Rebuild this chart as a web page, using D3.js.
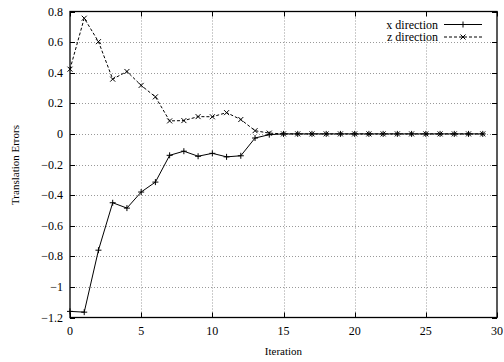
<!DOCTYPE html>
<html><head><meta charset="utf-8">
<script src="https://cdn.jsdelivr.net/npm/d3@7"></script>
<style>body{margin:0;background:#fff}svg{display:block}</style>
</head><body><svg id="c" width="504" height="362" font-family="'Liberation Serif', 'Times New Roman', 'DejaVu Serif', serif"></svg>
<script>
const iterations = d3.range(0, 30);
const xDirection = [-1.16,-1.165,-0.76,-0.45,-0.485,-0.38,-0.315,-0.14,-0.113,-0.146,-0.127,-0.15,-0.143,-0.027,-0.005,0,0,0,0,0,0,0,0,0,0,0,0,0,0,0];
const zDirection = [0.423,0.756,0.603,0.358,0.408,0.317,0.242,0.085,0.087,0.113,0.112,0.139,0.094,0.021,0.005,0,0,0,0,0,0,0,0,0,0,0,0,0,0,0];
const xTicks = [0,5,10,15,20,25,30];
const yTicks = [-1.2,-1,-0.8,-0.6,-0.4,-0.2,0,0.2,0.4,0.6,0.8];
const seriesNames = ["x direction","z direction"];

const L=70,R=497,T=11.5,B=317.5;
const svg=d3.select("#c");
const x=d3.scaleLinear().domain([0,30]).range([L,R]);
const y=d3.scaleLinear().domain([-1.2,0.8]).range([B,T]);

// grid
const g=svg.append("g");
g.selectAll(".gx").data(xTicks.filter(d=>d>0&&d<30)).enter().append("line")
 .attr("x1",d=>Math.round(x(d))+0.5).attr("x2",d=>Math.round(x(d))+0.5).attr("y1",T).attr("y2",B)
 .attr("stroke","#999").attr("stroke-dasharray","1,2");
g.selectAll(".gy").data(yTicks.filter(d=>d>-1.2&&d<0.8)).enter().append("line")
 .attr("y1",d=>Math.round(y(d))+0.5).attr("y2",d=>Math.round(y(d))+0.5).attr("x1",L).attr("x2",R)
 .attr("stroke","#999").attr("stroke-dasharray","1,2");

// legend background
svg.append("rect").attr("x",378).attr("y",16).attr("width",112).attr("height",24).attr("fill","#fff");

// ticks inward
const tk=svg.append("g").attr("stroke","#000");
xTicks.forEach(d=>{const px=Math.round(x(d))+0.5;
 tk.append("line").attr("x1",px).attr("x2",px).attr("y1",B).attr("y2",B-5);
 tk.append("line").attr("x1",px).attr("x2",px).attr("y1",T).attr("y2",T+5);});
yTicks.forEach(d=>{const py=Math.round(y(d))+0.5;
 tk.append("line").attr("y1",py).attr("y2",py).attr("x1",L).attr("x2",L+5);
 tk.append("line").attr("y1",py).attr("y2",py).attr("x1",R).attr("x2",R-5);});

// frame
svg.append("rect").attr("x",L).attr("y",T).attr("width",R-L).attr("height",B-T)
 .attr("fill","none").attr("stroke","#000").attr("stroke-width",1.3);

// tick labels
svg.append("g").selectAll("text").data(xTicks).enter().append("text")
 .attr("x",d=>x(d)).attr("y",B+17).attr("text-anchor","middle").attr("font-size",12).text(d=>d);
svg.append("g").selectAll("text").data(yTicks).enter().append("text")
 .attr("x",L-7).attr("y",d=>y(d)+4).attr("text-anchor","end").attr("font-size",12).text(d=>d3.format("")(d));

// axis titles
svg.append("text").attr("x",(L+R)/2).attr("y",355).attr("text-anchor","middle").attr("font-size",11).text("Iteration");
svg.append("text").attr("transform","translate(19,165) rotate(-90)").attr("text-anchor","middle").attr("font-size",11).text("Translation Errors");

// lines
const line=d3.line().x((d,i)=>x(iterations[i])).y(d=>y(d));
svg.append("path").datum(xDirection).attr("d",line).attr("fill","none").attr("stroke","#000").attr("stroke-width",1);
svg.append("path").datum(zDirection).attr("d",line).attr("fill","none").attr("stroke","#000").attr("stroke-width",1).attr("stroke-dasharray","3,2");

function plus(sel,cx,cy){sel.append("path").attr("d",`M${cx-3},${cy}H${cx+3}M${cx},${cy-3}V${cy+3}`).attr("stroke","#000").attr("stroke-width",1);}
function cross(sel,cx,cy){sel.append("path").attr("d",`M${cx-2.5},${cy-2.5}L${cx+2.5},${cy+2.5}M${cx-2.5},${cy+2.5}L${cx+2.5},${cy-2.5}`).attr("stroke","#000").attr("stroke-width",1);}
const mk=svg.append("g");
xDirection.forEach((d,i)=>plus(mk,x(iterations[i]),y(d)));
zDirection.forEach((d,i)=>cross(mk,x(iterations[i]),y(d)));

// legend
const lg=svg.append("g");
const rows=[24.5,37];
seriesNames.forEach((n,i)=>{
 lg.append("text").attr("x",438).attr("y",rows[i]+4).attr("text-anchor","end").attr("font-size",12).text(n);
 lg.append("line").attr("x1",444).attr("x2",482).attr("y1",rows[i]).attr("y2",rows[i]).attr("stroke","#000")
  .attr("stroke-dasharray",i?"3,2":null);
 if(i) cross(lg,463,rows[i]); else plus(lg,463,rows[i]);
});
</script></body></html>
